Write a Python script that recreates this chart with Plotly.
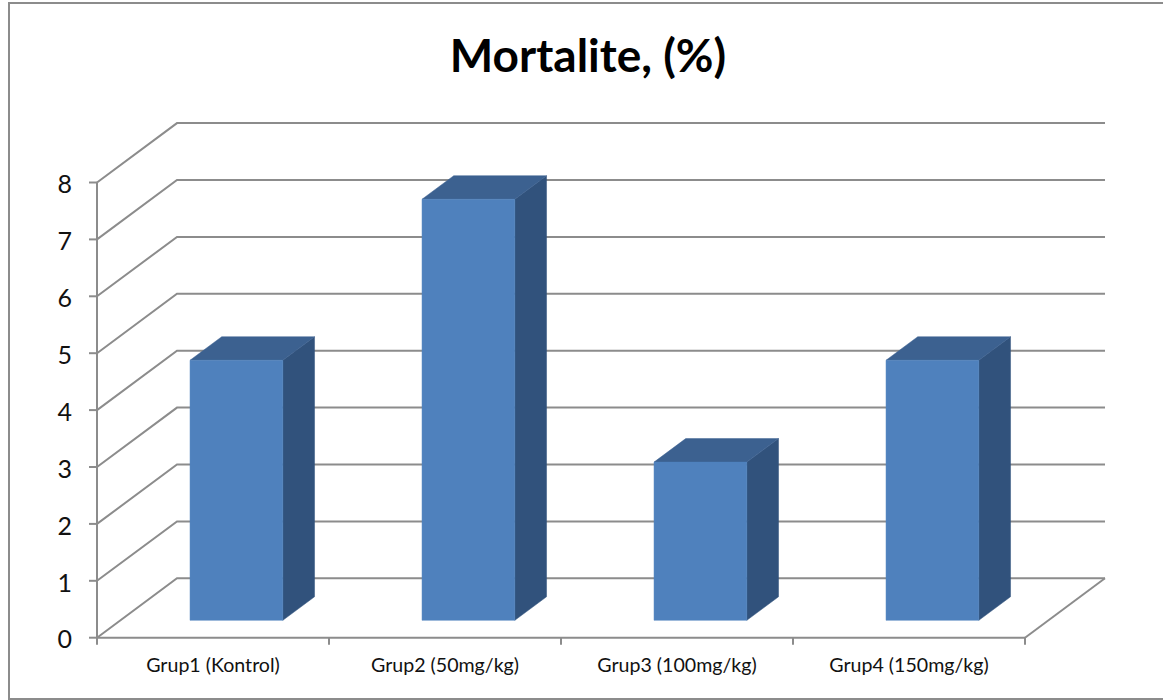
import plotly.graph_objects as go

# Values
categories = ['Grup1 (Kontrol)', 'Grup2 (50mg/kg)', 'Grup3 (100mg/kg)', 'Grup4 (150mg/kg)']
mortality = [4.57, 7.4, 2.78, 4.57]
y_ticks = [0, 1, 2, 3, 4, 5, 6, 7, 8]

GREY = '#8C8C8C'
FRONT = '#4F81BD'
TOP = '#3C6190'
SIDE = '#31527C'

# Pixel scale of the axes and where the plot area sits on the page
PX_X = 232
PX_Y = 56.9
ORIGIN = (97, 637.7)
PLOT_L, PLOT_R, PLOT_T, PLOT_B = 87, 1109, 119, 648

# Fake 3D: the floor depth moves a point right and up, in axis units
DEPTH_X = 80 / PX_X
DEPTH_Y = 59.4 / PX_Y
BAR_WIDTH = 0.4
BAR_NEAR = 0.293
BAR_FAR = 0.689
N = len(categories)


def shift(x, y, depth):
    return x + depth * DEPTH_X, y + depth * DEPTH_Y


def polygon(points, color):
    return go.Scatter(x=[p[0] for p in points], y=[p[1] for p in points], mode='lines',
                      fill='toself', fillcolor=color, line=dict(color=color, width=0.5),
                      hoverinfo='skip', showlegend=False)


# Walls: gridlines go from the value axis back to the wall, then along it
grid_x, grid_y = [], []
for t in y_ticks:
    back_x, back_y = shift(0, t, 1)
    grid_x += [0, back_x, N + DEPTH_X, None]
    grid_y += [t, back_y, back_y, None]
floor_x, floor_y = shift(N, 0, 1)
grid_x += [N, floor_x]
grid_y += [0, floor_y]

# Axis lines and tick marks
axis_x = [0, 0, N, None]
axis_y = [y_ticks[-1], 0, 0, None]
for t in y_ticks:
    axis_x += [-8 / PX_X, 0, None]
    axis_y += [t, t, None]
for i in range(N + 1):
    axis_x += [i, i, None]
    axis_y += [0, -7 / PX_Y, None]

data = [
    go.Scatter(x=grid_x, y=grid_y, mode='lines', line=dict(color=GREY, width=2),
               hoverinfo='skip', showlegend=False),
    go.Scatter(x=axis_x, y=axis_y, mode='lines', line=dict(color=GREY, width=2),
               hoverinfo='skip', showlegend=False),
]

for i, value in enumerate(mortality):
    left = i + 0.5 - BAR_WIDTH / 2
    right = i + 0.5 + BAR_WIDTH / 2
    fl0 = shift(left, 0, BAR_NEAR)
    fr0 = shift(right, 0, BAR_NEAR)
    fl1 = shift(left, value, BAR_NEAR)
    fr1 = shift(right, value, BAR_NEAR)
    br0 = shift(right, 0, BAR_FAR)
    bl1 = shift(left, value, BAR_FAR)
    br1 = shift(right, value, BAR_FAR)
    data.append(polygon([fr0, br0, br1, fr1, fr0], SIDE))
    data.append(polygon([fl1, bl1, br1, fr1, fl1], TOP))
    data.append(polygon([fl0, fr0, fr1, fl1, fl0], FRONT))


def paper_x(px):
    return (px - PLOT_L) / (PLOT_R - PLOT_L)


def paper_y(py):
    return (PLOT_B - py) / (PLOT_B - PLOT_T)


# Chart frame: the right side is cut off in the picture
frame = 'M %f %f L %f %f L %f %f L %f %f' % (
    paper_x(1165), paper_y(3), paper_x(9), paper_y(3),
    paper_x(9), paper_y(699), paper_x(1165), paper_y(699))

layout = go.Layout(
    width=1163, height=700,
    margin=dict(l=PLOT_L, r=1163 - PLOT_R, t=PLOT_T, b=700 - PLOT_B),
    paper_bgcolor='white', plot_bgcolor='white',
    font=dict(family='Lato', color='#111111'),
    showlegend=False,
    title=dict(text='<b>Mortalite, (%)</b>', x=paper_x(588), xref='paper', xanchor='center',
               y=0.92, yanchor='middle', font=dict(family='Lato', size=46, color='black')),
    xaxis=dict(range=[(PLOT_L - ORIGIN[0]) / PX_X, (PLOT_R - ORIGIN[0]) / PX_X],
               showgrid=False, zeroline=False, showline=False,
               tickmode='array', tickvals=[i + 0.5 for i in range(N)], ticktext=categories,
               ticks='', tickfont=dict(family='Lato', size=19.6), ticklabelstandoff=3),
    yaxis=dict(range=[(ORIGIN[1] - PLOT_B) / PX_Y, (ORIGIN[1] - PLOT_T) / PX_Y],
               showgrid=False, zeroline=False, showline=False,
               tickmode='array', tickvals=y_ticks, ticks='', ticklabelshift=2,
               tickfont=dict(family='Lato', size=25), ticklabelstandoff=14),
    shapes=[dict(type='path', xref='paper', yref='paper', line=dict(color='#8C8C8C', width=2),
                 path=frame)],
)

fig = go.Figure(data=data, layout=layout)
fig.write_html("out.html", config=dict(displayModeBar=False),
               post_script="document.body.style.margin='0';")
